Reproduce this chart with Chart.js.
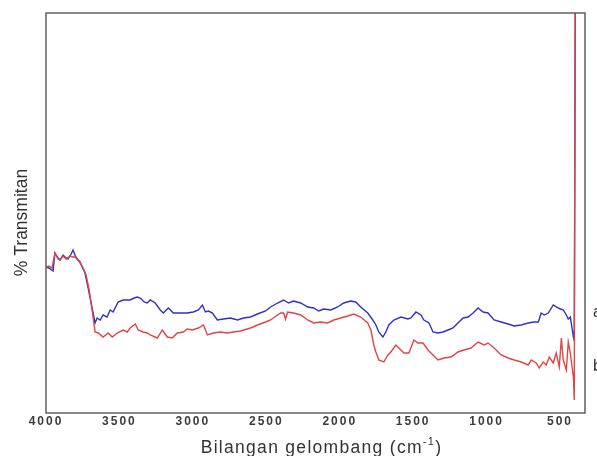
<!DOCTYPE html>
<html>
<head>
<meta charset="utf-8">
<script src="https://cdn.jsdelivr.net/npm/chart.js@4/dist/chart.umd.min.js"></script>
<style>
  html, body { margin: 0; padding: 0; background: #fff; }
  #wrap { width: 597px; height: 456px; position: relative; }
</style>
</head>
<body>
<div id="wrap"><canvas id="ftir" width="597" height="456"></canvas></div>
<script>
// FTIR spectra: wavenumber (cm-1) and relative transmittance (%)
const tickValues = [4000, 3500, 3000, 2500, 2000, 1500, 1000, 500];

const waveA = [4000, 3980, 3952, 3939, 3918, 3904, 3884, 3870, 3850, 3829, 3816, 3795, 3768, 3754, 3734, 3713, 3686, 3666, 3652, 3631,
  3611, 3584, 3563, 3543, 3509, 3474, 3427, 3399, 3379, 3358, 3331, 3311, 3290, 3256, 3222, 3201, 3167, 3133, 3085, 3038,
  2997, 2962, 2935, 2915, 2894, 2867, 2833, 2792, 2744, 2696, 2655, 2607, 2560, 2505, 2471, 2423, 2382, 2348, 2314, 2266,
  2218, 2177, 2143, 2109, 2061, 2014, 1973, 1925, 1891, 1857, 1809, 1775, 1754, 1734, 1706, 1686, 1666, 1631, 1584, 1536,
  1515, 1481, 1447, 1427, 1392, 1365, 1331, 1297, 1263, 1229, 1195, 1160, 1126, 1092, 1058, 1024, 990, 949, 901, 853,
  812, 764, 717, 676, 648, 628, 607, 580, 546, 512, 478, 457, 444, 430, 409, 403, 396];
const transA = [36.5, 36.25, 35.5, 40, 38.75, 38.25, 39.5, 39, 38.5, 39.75, 40.75, 38.75, 37.75, 36.5, 35, 31.25, 26.25, 22.5, 23.75, 23.25,
  24.5, 24, 25.75, 25.25, 27.75, 28.25, 28.25, 28.75, 29, 28.75, 27.75, 27.5, 28.25, 27.5, 25.75, 25, 26.25, 25, 25, 25,
  25.25, 25.75, 27, 25.25, 25.5, 25, 23.25, 23.5, 23.75, 23.25, 23.75, 24, 24.75, 25.5, 26.5, 27.5, 28.25, 27.5, 28, 27.5,
  26.5, 26.25, 25.5, 26, 25.75, 26.5, 27.5, 28, 27.75, 26.5, 25, 23.25, 22, 20.25, 19, 20.25, 22, 23.25, 24, 23.5,
  23.75, 25.25, 24.5, 23.25, 22.5, 20.25, 20, 20.25, 20.75, 21.25, 22.5, 23.75, 24, 25, 26.25, 25.25, 25, 23.25, 22.75, 22.25,
  21.75, 22, 22.5, 22.75, 22.75, 25, 24.5, 25, 27, 26.25, 25.75, 24.5, 23.5, 24, 19, 20.75, 100];

const waveB = [4000, 3980, 3959, 3939, 3918, 3904, 3884, 3863, 3836, 3816, 3795, 3768, 3747, 3727, 3706, 3686, 3666, 3645, 3611, 3577,
  3549, 3515, 3474, 3447, 3427, 3392, 3372, 3338, 3311, 3290, 3242, 3208, 3174, 3140, 3106, 3065, 3038, 3003, 2962, 2928,
  2901, 2860, 2812, 2764, 2723, 2676, 2607, 2560, 2505, 2471, 2403, 2382, 2369, 2355, 2314, 2266, 2218, 2177, 2130, 2082,
  2041, 1993, 1945, 1904, 1857, 1809, 1788, 1768, 1754, 1734, 1700, 1672, 1652, 1618, 1597, 1563, 1529, 1495, 1467, 1433,
  1399, 1365, 1331, 1290, 1242, 1195, 1154, 1106, 1058, 1017, 990, 949, 901, 853, 812, 764, 717, 696, 662, 642,
  614, 594, 573, 546, 526, 505, 491, 478, 457, 444, 430, 409, 403, 397];
const transB = [36.5, 36.75, 36.25, 40, 38.5, 38.25, 39.25, 38.5, 39.25, 39, 39, 37.5, 36.25, 34.5, 30.75, 25.75, 20.25, 20, 19, 20,
  19, 20, 20.75, 20.25, 21.25, 22.25, 20.75, 20.25, 20, 19.5, 18.75, 20.75, 19, 18.75, 20, 20.25, 21, 20.75, 21.25, 22,
  19.5, 20, 20.25, 20, 20.25, 20.5, 21.25, 22, 22.75, 23.25, 25, 25, 23.5, 25.25, 25, 24.5, 23.25, 22.5, 22.75, 22.5,
  23.25, 23.75, 24.25, 24.75, 24, 22.5, 20.75, 17, 15.25, 13.25, 12.75, 14.5, 15.25, 17, 16.25, 15, 15, 18.25, 17.5, 17.5,
  15.75, 14.5, 13.25, 13.75, 14, 15.25, 15.75, 16.25, 17.75, 17, 17.5, 16.25, 14.5, 13.75, 13.25, 12.75, 12, 13.25, 12.5, 11.25,
  12.75, 12, 14, 12.5, 15, 11.5, 18.75, 13.25, 10.75, 17.75, 15, 9, 3.25, 100];

const seriesNames = ['a', 'b'];
const seriesColors = ['#3030c8', '#e04444'];
const FONT = '"Liberation Sans", Arial, sans-serif';

function toPoints(xs, ys) {
  return xs.map((x, i) => ({ x: x, y: ys[i] }));
}

// Slightly spaced lettering for the axis numbers
const spacing = {
  id: 'spacing',
  beforeDraw(chart) { chart.ctx.letterSpacing = '2px'; },
  afterDraw(chart) { chart.ctx.letterSpacing = '0px'; }
};

// Box around the plotting area
const frame = {
  id: 'frame',
  afterDraw(chart) {
    const { ctx, chartArea: a } = chart;
    ctx.save();
    ctx.strokeStyle = '#555';
    ctx.lineWidth = 1.4;
    ctx.strokeRect(a.left, a.top, a.right - a.left, a.bottom - a.top);
    ctx.restore();
  }
};

// Axis titles: a raised exponent on the horizontal one, rotated text on the vertical one
const axisTitles = {
  id: 'axisTitles',
  afterDraw(chart, args, opts) {
    const { ctx, chartArea: a } = chart;
    const big = '17.5px ' + FONT, small = '11px ' + FONT;
    ctx.save();
    ctx.fillStyle = '#333';
    ctx.textBaseline = 'middle';
    ctx.textAlign = 'left';

    ctx.letterSpacing = '1.3px';
    ctx.font = big;
    const w1 = ctx.measureText(opts.main).width;
    const w3 = ctx.measureText(opts.close).width;
    ctx.font = small;
    const w2 = ctx.measureText(opts.exp).width;
    let x = (a.left + a.right) / 2 + 6 - (w1 + w2 + w3) / 2;
    const y = 448;
    ctx.font = big;
    ctx.fillText(opts.main, x, y);
    x += w1;
    ctx.font = small;
    ctx.fillText(opts.exp, x, y - 6);
    x += w2;
    ctx.font = big;
    ctx.fillText(opts.close, x, y);

    ctx.letterSpacing = '0px';
    ctx.font = big;
    ctx.textAlign = 'center';
    ctx.translate(22, (a.top + a.bottom) / 2 + 9.5);
    ctx.rotate(-Math.PI / 2);
    ctx.fillText(opts.yText, 0, 0);
    ctx.restore();
  }
};

// Series letters to the right of the frame, level with each trace's tail
const seriesTags = {
  id: 'seriesTags',
  afterDraw(chart, args, opts) {
    const { ctx, chartArea: a, scales } = chart;
    ctx.save();
    ctx.letterSpacing = '0px';
    ctx.fillStyle = '#333';
    ctx.font = '16px ' + FONT;
    ctx.textBaseline = 'middle';
    ctx.textAlign = 'left';
    opts.levels.forEach((lv, i) => {
      ctx.fillText(seriesNames[i], a.right + 8, scales.y.getPixelForValue(lv));
    });
    ctx.restore();
  }
};

new Chart(document.getElementById('ftir'), {
  type: 'line',
  data: {
    datasets: [
      {
        label: seriesNames[1],
        data: toPoints(waveB, transB),
        borderColor: seriesColors[1],
        borderWidth: 1.4,
        pointRadius: 0,
        tension: 0,
        fill: false
      },
      {
        label: seriesNames[0],
        data: toPoints(waveA, transA),
        borderColor: seriesColors[0],
        borderWidth: 1.4,
        pointRadius: 0,
        tension: 0,
        fill: false
      }
    ]
  },
  options: {
    responsive: false,
    animation: false,
    events: [],
    layout: { padding: { top: 13, right: 12, left: 0, bottom: 0 } },
    plugins: {
      legend: { display: false },
      tooltip: { enabled: false },
      seriesTags: { levels: [25.2, 11.7] },
      axisTitles: {
        main: 'Bilangan gelombang (cm', exp: '-1', close: ')',
        yText: '% Transmitan'
      }
    },
    scales: {
      x: {
        type: 'linear',
        reverse: true,
        min: 330,
        max: 4000,
        afterBuildTicks(scale) {
          scale.ticks = tickValues.map(v => ({ value: v }));
        },
        afterFit(scale) { scale.height = 43; },
        grid: { display: false, drawTicks: false },
        border: { display: false },
        ticks: {
          padding: 1,
          maxRotation: 0,
          autoSkip: false,
          color: '#3c3c3c',
          font: { family: FONT, size: 12, weight: 'bold' },
          callback: v => String(v)
        },
        title: { display: false }
      },
      y: {
        min: 0,
        max: 100,
        afterFit(scale) { scale.width = 46; },
        grid: { display: false, drawTicks: false },
        border: { display: false },
        ticks: { display: false },
        title: { display: false }
      }
    }
  },
  plugins: [spacing, frame, axisTitles, seriesTags]
});
</script>
</body>
</html>
